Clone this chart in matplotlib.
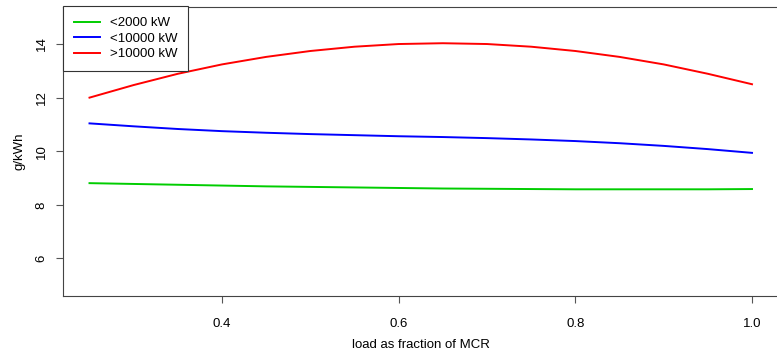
import matplotlib
matplotlib.use('Agg')
import matplotlib.pyplot as plt

# load as fraction of MCR
load = [0.25, 0.30, 0.35, 0.40, 0.45, 0.50, 0.55, 0.60, 0.65,
        0.70, 0.75, 0.80, 0.85, 0.90, 0.95, 1.00]

# specific emissions, g/kWh
small = [8.81, 8.78, 8.75, 8.72, 8.69, 8.67, 8.65, 8.63, 8.61,
         8.60, 8.59, 8.58, 8.58, 8.58, 8.58, 8.59]
medium = [11.04, 10.93, 10.83, 10.75, 10.69, 10.64, 10.60, 10.56, 10.53,
          10.49, 10.44, 10.38, 10.30, 10.20, 10.08, 9.94]
large = [12.00, 12.47, 12.89, 13.24, 13.52, 13.74, 13.90, 14.00, 14.03,
         14.00, 13.90, 13.74, 13.52, 13.24, 12.89, 12.50]

labels = ['<2000 kW', '<10000 kW', '>10000 kW']
colors = ['#00CD00', '#0000FF', '#FF0000']

plt.rcParams['font.family'] = ['Liberation Sans', 'DejaVu Sans']
fs = 9.5

fig = plt.figure(figsize=(7.77, 3.52), dpi=100)
# right edge of the plot box sits just outside the picture, like the original
ax = fig.add_axes([63 / 777, 1 - 296 / 352, (778.5 - 63) / 777, (296 - 6.5) / 352])

for ys, lab, col in zip([small, medium, large], labels, colors):
    ax.plot(load, ys, color=col, lw=1.4, label=lab)

ax.set_xlim(0.22, 1.03)
ax.set_ylim(4.6, 15.4)
ax.set_xticks([0.4, 0.6, 0.8, 1.0])
ax.set_xticklabels(['0.4', '0.6', '0.8', '1.0'], fontsize=fs)
ax.set_yticks([6, 8, 10, 12, 14])
ax.set_yticklabels(['6', '8', '10', '12', '14'], fontsize=fs, rotation=90, va='center')
ax.tick_params(axis='both', length=5, width=0.8, color='#555555')
ax.tick_params(axis='x', pad=10.5)
ax.tick_params(axis='y', pad=6)
for s in ax.spines.values():
    s.set_color('#444444')
    s.set_linewidth(0.8)

ax.set_xlabel('load as fraction of MCR', fontsize=fs, labelpad=7)
ax.set_ylabel('g/kWh', fontsize=fs, labelpad=7)

leg = ax.legend(loc='upper left', bbox_to_anchor=(0, 1), borderaxespad=0,
                fancybox=False, edgecolor='#333333', fontsize=fs,
                handlelength=2.0, handletextpad=0.75, borderpad=0.8,
                labelspacing=0.25, framealpha=1)
leg.get_frame().set_linewidth(0.8)

plt.savefig('out.png', dpi=100)
